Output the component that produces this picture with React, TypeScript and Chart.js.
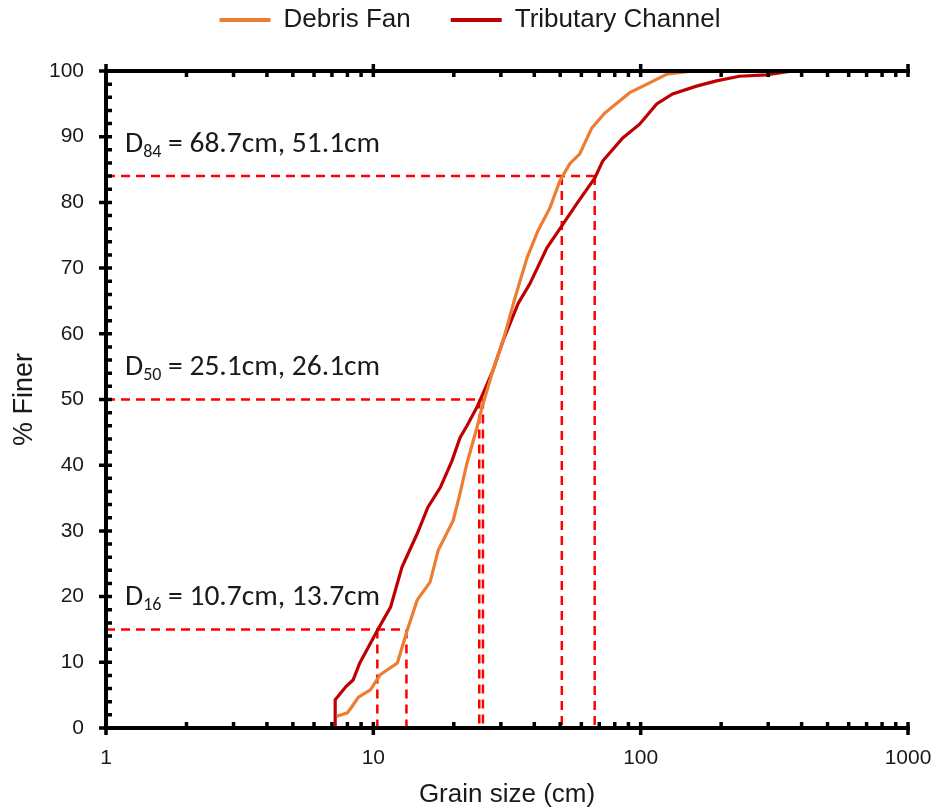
import React, { useEffect, useRef } from "react";
import { Chart, registerables } from "chart.js";

Chart.register(...registerables);

// ---- Data ----
const debrisFanSize = [7.3, 8.0, 8.3, 8.8, 9.75, 10.6, 12.3, 13.4, 14.6, 16.3, 17.5, 19.9, 21.1, 22.4, 24.4, 25.5, 28.0, 30.6, 33.9, 37.6, 41.3, 45.8, 49.9, 54.3, 59.2, 65.6, 73.4, 91, 108, 125, 157];
const debrisFanFiner = [1.8, 2.3, 3.2, 4.7, 5.8, 8.1, 9.9, 14.9, 19.5, 22.2, 27.1, 31.6, 35.7, 40.3, 45.7, 48.8, 54.4, 59, 65.5, 71.6, 75.7, 79.2, 83.3, 85.9, 87.4, 91.3, 93.6, 96.7, 98.2, 99.5, 100];

const tributarySize = [7.2, 7.2, 7.9, 8.4, 8.9, 10.4, 11.6, 12.8, 14.6, 16.0, 17.8, 19.7, 21.1, 22.4, 24.4, 26.1, 28.0, 30.6, 34.8, 38.5, 44.6, 49.9, 57.7, 67.3, 72.1, 85.7, 99.1, 114.8, 131.6, 161.8, 192, 234, 295, 369];
const tributaryFiner = [0, 4.3, 6.3, 7.3, 9.9, 15.0, 18.4, 24.5, 29.6, 33.6, 36.6, 40.7, 44.2, 46, 48.8, 51.5, 54.4, 59, 64.6, 67.6, 73.1, 76, 79.8, 83.7, 86.3, 89.8, 91.9, 95, 96.5, 97.7, 98.5, 99.2, 99.4, 100];

const seriesNames = ["Debris Fan", "Tributary Channel"];
const seriesColors = ["#ED7D31", "#C00000"];

const xTickValues = [1, 10, 100, 1000];
const yTickStep = 10;
const yMinorStep = 2;

// Percentile guide lines
const percentLevels = [15, 50, 84];
const tributaryD = [10.35, 24.9, 67.3];
const debrisFanD = [13.3, 25.7, 50.7];
const percentSubs = ["16", "50", "84"];
const percentTexts = [" = 10.7cm, 13.7cm", " = 25.1cm, 26.1cm", " = 68.7cm, 51.1cm"];
const labelOffset = 4.8;

const TEXT_COLOR = "#1a1a1a";
const TICK_FONT = "'Liberation Sans', Arial, sans-serif";
const NOTE_FONT = "Carlito, Lato, 'Open Sans', sans-serif";

function toPoints(xs: number[], ys: number[]) {
  return xs.map((x, i) => ({ x, y: ys[i] }));
}

const frameTicksPlugin = {
  id: "frameTicks",
  afterDatasetsDraw(chart: any) {
    const { ctx, chartArea } = chart;
    const { left, right, top, bottom } = chartArea;
    const xs = chart.scales.x;
    const ys = chart.scales.y;
    ctx.save();
    ctx.strokeStyle = "#000";
    ctx.lineCap = "butt";
    ctx.lineWidth = 4;
    ctx.beginPath();
    ctx.moveTo(left, top - 2);
    ctx.lineTo(left, bottom + 2);
    ctx.moveTo(left - 2, bottom);
    ctx.lineTo(right + 2, bottom);
    ctx.moveTo(left - 2, top);
    ctx.lineTo(right + 2, top);
    ctx.stroke();
    ctx.lineWidth = 3.5;
    ctx.beginPath();
    for (let d = 0; d <= 3; d++) {
      const base = Math.pow(10, d);
      const px = xs.getPixelForValue(base);
      ctx.moveTo(px, bottom - 6);
      ctx.lineTo(px, bottom + 7);
      ctx.moveTo(px, top - 7);
      ctx.lineTo(px, top + 6);
      if (d < 3) {
        for (let k = 2; k <= 9; k++) {
          const mx = xs.getPixelForValue(k * base);
          ctx.moveTo(mx, bottom);
          ctx.lineTo(mx, bottom - 6);
          ctx.moveTo(mx, top);
          ctx.lineTo(mx, top + 6);
        }
      }
    }
    for (let v = 0; v <= 100; v += yMinorStep) {
      const py = ys.getPixelForValue(v);
      if (v % yTickStep === 0) {
        ctx.moveTo(left - 7, py);
        ctx.lineTo(left + 6, py);
      } else {
        ctx.moveTo(left, py);
        ctx.lineTo(left + 6, py);
      }
    }
    ctx.stroke();

    ctx.fillStyle = TEXT_COLOR;
    ctx.textBaseline = "alphabetic";
    ctx.textAlign = "left";
    percentLevels.forEach((lvl, i) => {
      const py = ys.getPixelForValue(lvl + labelOffset) + 7;
      let px = left + 19;
      ctx.font = `29.5px ${NOTE_FONT}`;
      ctx.fillText("D", px, py);
      px += ctx.measureText("D").width;
      ctx.font = `18px ${NOTE_FONT}`;
      ctx.fillText(percentSubs[i], px, py + 5);
      px += ctx.measureText(percentSubs[i]).width;
      ctx.font = `29.5px ${NOTE_FONT}`;
      ctx.fillText(percentTexts[i], px, py);
    });
    ctx.restore();
  },
};

export default function App() {
  const canvasRef = useRef<HTMLCanvasElement | null>(null);

  useEffect(() => {
    if (!canvasRef.current) return;

    const guideDatasets: any[] = [];
    percentLevels.forEach((lvl, i) => {
      const xmax = Math.max(tributaryD[i], debrisFanD[i]);
      const common = {
        type: "line",
        borderColor: "#FF0000",
        backgroundColor: "#FF0000",
        borderWidth: 2.5,
        borderDash: [9, 6],
        pointRadius: 0,
        showLine: true,
        fill: false,
        tension: 0,
        label: "",
      };
      guideDatasets.push({ ...common, data: [{ x: 1, y: lvl }, { x: xmax, y: lvl }] });
      guideDatasets.push({ ...common, data: [{ x: tributaryD[i], y: lvl }, { x: tributaryD[i], y: 0 }] });
      guideDatasets.push({ ...common, data: [{ x: debrisFanD[i], y: lvl }, { x: debrisFanD[i], y: 0 }] });
    });

    const chart = new Chart(canvasRef.current, {
      type: "scatter",
      data: {
        datasets: [
          {
            label: seriesNames[0],
            data: toPoints(debrisFanSize, debrisFanFiner),
            showLine: true,
            borderColor: seriesColors[0],
            backgroundColor: seriesColors[0],
            borderWidth: 3.2,
            pointRadius: 0,
            tension: 0,
            clip: 4,
          },
          {
            label: seriesNames[1],
            data: toPoints(tributarySize, tributaryFiner),
            showLine: true,
            borderColor: seriesColors[1],
            backgroundColor: seriesColors[1],
            borderWidth: 3.2,
            pointRadius: 0,
            tension: 0,
            clip: 4,
          },
          ...guideDatasets,
        ] as any,
      },
      options: {
        responsive: false,
        animation: false,
        devicePixelRatio: 1,
        layout: { padding: { top: -33, left: 32, right: 29, bottom: 0 } },
        plugins: {
          tooltip: { enabled: false },
          legend: {
            display: true,
            position: "top",
            labels: {
              boxWidth: 51,
              boxHeight: 4,
              padding: 40,
              color: TEXT_COLOR,
              font: { family: TICK_FONT, size: 26 },
              generateLabels: (ch: any) =>
                (Chart.defaults.plugins.legend.labels.generateLabels as any)(ch)
                  .filter((l: any) => l.datasetIndex < 2)
                  .map((l: any) => ({ ...l, lineWidth: 0, fillStyle: seriesColors[l.datasetIndex] })),
            },
          },
        },
        scales: {
          x: {
            type: "logarithmic",
            position: "bottom",
            min: 1,
            max: 1000,
            grid: { display: false, drawTicks: false },
            border: { display: false },
            afterBuildTicks: (s: any) => {
              s.ticks = xTickValues.map((v) => ({ value: v }));
            },
            afterFit: (s: any) => {
              s.height = 84;
              s.paddingLeft = 0;
              s.paddingRight = 0;
            },
            ticks: {
              autoSkip: false,
              maxRotation: 0,
              padding: 18,
              color: TEXT_COLOR,
              font: { family: TICK_FONT, size: 21 },
              callback: (v: any) => String(v),
            },
            title: {
              display: true,
              text: "Grain size (cm)",
              color: TEXT_COLOR,
              font: { family: TICK_FONT, size: 26 },
              padding: { top: 2, bottom: 2 },
            },
          },
          xTopSpacer: {
            type: "logarithmic",
            position: "top",
            min: 1,
            max: 1000,
            display: true,
            grid: { display: false, drawTicks: false },
            border: { display: false },
            ticks: { display: false },
            afterFit: (s: any) => {
              s.height = 28;
              s.paddingLeft = 0;
              s.paddingRight = 0;
            },
          },
          y: {
            type: "linear",
            min: 0,
            max: 100,
            grid: { display: false, drawTicks: false },
            border: { display: false },
            afterFit: (s: any) => {
              s.width = 74;
            },
            ticks: {
              stepSize: yTickStep,
              padding: 22,
              color: TEXT_COLOR,
              font: { family: TICK_FONT, size: 21 },
            },
            title: {
              display: true,
              text: "% Finer",
              color: TEXT_COLOR,
              font: { family: TICK_FONT, size: 27 },
              padding: { top: -24, bottom: 0 },
            },
          },
        },
      } as any,
      plugins: [frameTicksPlugin],
    });

    return () => chart.destroy();
  }, []);

  return (
    <div style={{ position: "absolute", left: 0, top: 0, width: 937, height: 812, background: "#fff" }}>
      <canvas ref={canvasRef} width={937} height={812} style={{ display: "block" }} />
    </div>
  );
}
